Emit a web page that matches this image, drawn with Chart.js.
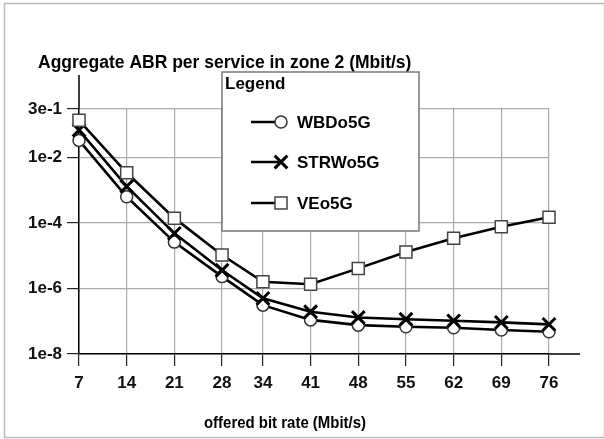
<!DOCTYPE html>
<html>
<head>
<meta charset="utf-8">
<script src="https://cdn.jsdelivr.net/npm/chart.js@4.4.1/dist/chart.umd.min.js"></script>
<style>
  html, body { margin: 0; padding: 0; background: #fff; }
  #wrap { position: relative; width: 604px; height: 439px; }
  canvas { display: block; }
</style>
</head>
<body>
<div id="wrap"><canvas id="c" width="604" height="439"></canvas></div>
<script>
// ---- data ----
const xValues = [7, 14, 21, 28, 34, 41, 48, 55, 62, 69, 76];
const xTickValues = [7, 14, 21, 28, 34, 41, 48, 55, 62, 69, 76];
const yTickValues = [1e-8, 1e-6, 1e-4, 1e-2, 3e-1];
const yTickLabels = ['1e-8', '1e-6', '1e-4', '1e-2', '3e-1'];
const seriesNames = ['WBDo5G', 'STRWo5G', 'VEo5G'];
const wbd = [3.3e-2, 6.3e-4, 2.6e-5, 2.3e-6, 3.1e-7, 1.1e-7, 7.6e-8, 6.8e-8, 6.3e-8, 5.4e-8, 4.8e-8];
const strw = [6.8e-2, 1.3e-3, 4.8e-5, 3.6e-6, 5.0e-7, 1.95e-7, 1.3e-7, 1.15e-7, 1.03e-7, 9.2e-8, 8.0e-8];
const veo = [1.35e-1, 3.4e-3, 1.4e-4, 1.05e-5, 1.6e-6, 1.35e-6, 4.1e-6, 1.3e-5, 3.4e-5, 7.6e-5, 1.5e-4];
const chartTitle = 'Aggregate ABR per service in zone 2 (Mbit/s)';
const xAxisTitle = 'offered bit rate (Mbit/s)';
const legendTitle = 'Legend';

const FONT = '"Liberation Sans", Arial, sans-serif';
const toPts = arr => arr.map((v, i) => ({ x: xValues[i], y: v }));

const styles = [
  { pointStyle: 'circle', pointRadius: 6, pointBorderWidth: 1.5, pointBorderColor: '#333', pointBackgroundColor: '#fff' },
  { pointStyle: 'crossRot', pointRadius: 9, pointBorderWidth: 3, pointBorderColor: '#000', pointBackgroundColor: '#000' },
  { pointStyle: 'rect', pointRadius: 8.5, pointBorderWidth: 1.5, pointBorderColor: '#444', pointBackgroundColor: '#fff' }
];
const seriesData = [wbd, strw, veo];

const datasets = seriesNames.map((name, i) => Object.assign({
  label: name,
  data: toPts(seriesData[i]),
  borderColor: '#000',
  borderWidth: 2.6,
  tension: 0,
  clip: false,
  order: 3 - i
}, styles[i]));

const decor = {
  id: 'decor',
  beforeDraw(chart) {
    const ctx = chart.ctx;
    ctx.save();
    ctx.fillStyle = '#fff';
    ctx.fillRect(0, 0, chart.width, chart.height);
    ctx.strokeStyle = '#bbb';
    ctx.lineWidth = 1.5;
    ctx.strokeRect(4.5, 3.5, 600, 434);
    ctx.fillStyle = '#000';
    ctx.font = 'bold 17.5px ' + FONT;
    ctx.textAlign = 'left';
    ctx.textBaseline = 'alphabetic';
    ctx.fillText(chartTitle, 38, 68);
    // x axis title (slightly condensed like the reference)
    ctx.save();
    ctx.font = 'bold 17px ' + FONT;
    ctx.textAlign = 'center';
    ctx.translate(285, 428);
    ctx.scale(0.88, 1);
    ctx.fillText(xAxisTitle, 0, 0);
    ctx.restore();
    const ca = chart.chartArea;
    // axis extensions
    ctx.strokeStyle = '#000';
    ctx.lineWidth = 1.5;
    ctx.beginPath();
    ctx.moveTo(ca.left, 75); ctx.lineTo(ca.left, ca.top);
    ctx.moveTo(ca.right, ca.bottom); ctx.lineTo(580, ca.bottom);
    ctx.stroke();
    ctx.restore();
  },
  afterDraw(chart) {
    const ctx = chart.ctx;
    ctx.save();
    ctx.fillStyle = '#fff';
    ctx.fillRect(222, 72, 197, 159);
    ctx.strokeStyle = '#777';
    ctx.lineWidth = 1.5;
    ctx.strokeRect(222, 72, 197, 159);
    ctx.fillStyle = '#000';
    ctx.font = 'bold 17px ' + FONT;
    ctx.textAlign = 'left';
    ctx.textBaseline = 'alphabetic';
    ctx.fillText(legendTitle, 225, 89);
    const rows = [122, 162, 203];
    chart.data.datasets.forEach((ds, i) => {
      const y = rows[i];
      ctx.strokeStyle = '#000';
      ctx.lineWidth = 2.5;
      ctx.beginPath();
      ctx.moveTo(251, y); ctx.lineTo(281, y);
      ctx.stroke();
      ctx.fillStyle = ds.pointBackgroundColor;
      ctx.strokeStyle = ds.pointBorderColor;
      ctx.lineWidth = ds.pointBorderWidth;
      Chart.helpers.drawPoint(ctx, { pointStyle: ds.pointStyle, radius: ds.pointRadius, rotation: 0, borderWidth: ds.pointBorderWidth }, 281, y);
      ctx.fillStyle = '#000';
      ctx.font = 'bold 17px ' + FONT;
      ctx.textBaseline = 'middle';
      ctx.fillText(ds.label, 297, y + 1);
    });
    ctx.restore();
  }
};

new Chart(document.getElementById('c'), {
  type: 'line',
  data: { datasets },
  options: {
    responsive: false,
    animation: false,
    devicePixelRatio: 1,
    layout: { padding: { top: 109, right: 55, left: 0, bottom: 0 } },
    plugins: { legend: { display: false }, title: { display: false }, tooltip: { enabled: false } },
    scales: {
      x: {
        type: 'linear',
        min: 7, max: 76,
        afterBuildTicks: s => { s.ticks = xTickValues.map(v => ({ value: v })); },
        afterFit: s => { s.height = 85; },
        grid: { color: '#aaa', lineWidth: 1.2, tickColor: '#222', tickLength: 12 },
        border: { color: '#000', width: 1.5 },
        ticks: { color: '#111', font: { family: FONT, size: 17, weight: 'bold' }, padding: 7, maxRotation: 0, autoSkip: false,
          callback: v => String(v) }
      },
      y: {
        type: 'logarithmic',
        min: 1e-8, max: 3e-1,
        afterBuildTicks: s => { s.ticks = yTickValues.map(v => ({ value: v, major: true })); },
        afterFit: s => { s.width = 79; },
        grid: { color: '#aaa', lineWidth: 1.2, tickColor: '#222', tickLength: 12 },
        border: { color: '#000', width: 1.5 },
        ticks: { color: '#111', font: { family: FONT, size: 17, weight: 'bold' }, padding: 5, autoSkip: false,
          callback: (v, i) => yTickLabels[i] }
      }
    }
  },
  plugins: [decor]
});
</script>
</body>
</html>
